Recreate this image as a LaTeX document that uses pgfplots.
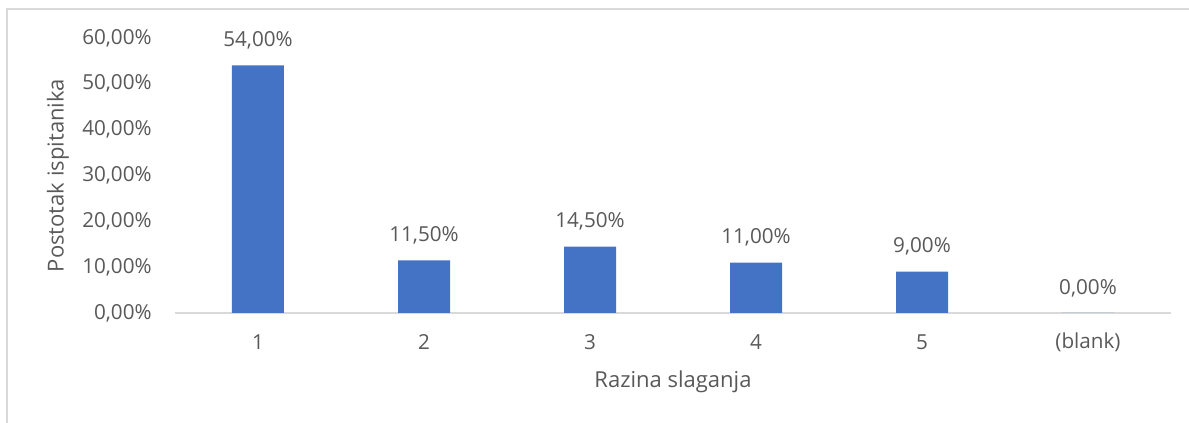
\documentclass[border=0pt]{standalone}
\usepackage{pgfplots}
\pgfplotsset{compat=1.18}
\usepackage{fontspec}
\setmainfont{Open Sans}
\usetikzlibrary{calc}
\definecolor{barblue}{HTML}{4472C4}
\definecolor{txt}{HTML}{595959}
\definecolor{axgray}{HTML}{D9D9D9}
\pgfplotstableread{
x y lab
0 54.0 {54,00\%}
1 11.5 {11,50\%}
2 14.5 {14,50\%}
3 11.0 {11,00\%}
4 9.0 {9,00\%}
5 0.0 {0,00\%}
}\datatable
\begin{document}
\begin{tikzpicture}
\useasboundingbox (-131.25pt,-82.5pt) rectangle (760.5pt,234.75pt);
\draw[axgray, line width=0.9pt] (-126pt,-82.5pt) -- (-126pt,228pt) -- (760.5pt,228pt);
\begin{axis}[
  at={(0,0)}, anchor=south west,
  scale only axis,
  width=747pt, height=206.25pt,
  xmin=-0.5, xmax=5.5,
  ymin=0, ymax=60,
  axis lines=left,
  x axis line style={axgray, line width=0.9pt, -},
  y axis line style={draw=none},
  xtick={0,1,2,3,4,5},
  xticklabels={1,2,3,4,5,(blank)},
  ytick={0,10,20,30,40,50,60},
  yticklabels={{0,00\%},{10,00\%},{20,00\%},{30,00\%},{40,00\%},{50,00\%},{60,00\%}},
  major tick length=0pt,
  ticklabel style={font=\fontsize{15.5}{18}\selectfont, text=txt},
  yticklabel style={anchor=east, xshift=-14pt},
  xticklabel style={anchor=center, yshift=-21.75pt},
  xlabel={Razina slaganja},
  xlabel style={font=\fontsize{16.5}{20}\selectfont, text=txt, at={(axis description cs:0.5,0)}, anchor=center, yshift=-51.75pt},
  ylabel={Postotak ispitanika},
  ylabel style={font=\fontsize{16.5}{20}\selectfont, text=txt, at={($(axis description cs:0,0.5)+(-87.75pt,0)$)}, anchor=center},
  ybar, bar width=39pt,
  nodes near coords,
  point meta=explicit symbolic,
  every node near coord/.append style={font=\fontsize{15.5}{18}\selectfont, text=txt, anchor=center, yshift=18.75pt},
  clip=false,
]
\addplot[fill=barblue, draw=none] table[x=x, y=y, meta=lab] {\datatable};
\end{axis}
\end{tikzpicture}
\end{document}
